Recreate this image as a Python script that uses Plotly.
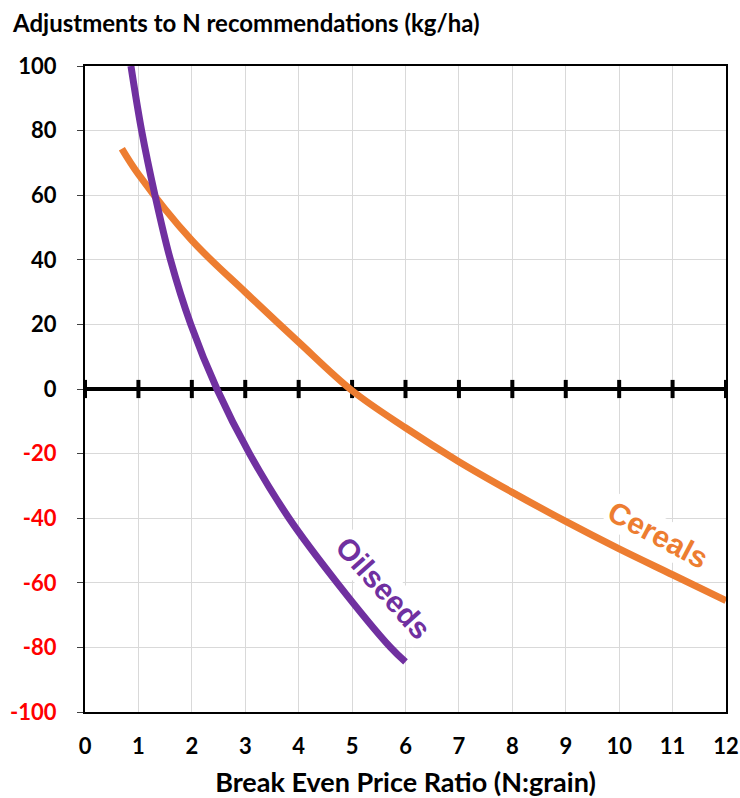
import plotly.graph_objects as go

# Data
cereals_x = [0.69, 1.0, 2.0, 3.0, 4.0, 5.0, 6.0, 7.0, 8.0, 9.0, 10.0, 11.0, 12.0]
cereals_y = [74.4, 66.5, 46.0, 30.0, 14.5, -0.5, -12.0, -22.5, -32.0, -41.0, -49.5, -57.5, -65.5]

oilseeds_x = [0.86, 1.06, 1.31, 1.60, 1.98, 2.47, 3.08, 3.82, 4.72, 5.72, 6.0]
oilseeds_y = [100.0, 80.0, 60.0, 40.0, 20.0, 0.0, -20.0, -40.0, -60.0, -80.0, -84.5]

x_ticks = list(range(0, 13))
y_ticks = [100, 80, 60, 40, 20, 0, -20, -40, -60, -80, -100]
y_tick_text = [
    (f'<span style="color:#FF0000">{v}</span>' if v < 0 else str(v)) for v in y_ticks
]

title_text = "Adjustments to N recommendations (kg/ha)"
x_title = "Break Even Price Ratio (N:grain)"

ORANGE = "#ED7D31"
PURPLE = "#7030A0"
FONT = "Lato"

fig = go.Figure()

# tick marks on the zero line
fig.add_trace(go.Scatter(
    x=x_ticks, y=[0] * len(x_ticks), mode="markers",
    marker=dict(symbol="line-ns", size=13, line=dict(width=4, color="black")),
    hoverinfo="skip", showlegend=False, cliponaxis=False,
))

fig.add_trace(go.Scatter(
    x=cereals_x, y=cereals_y, mode="lines", name="Cereals",
    line=dict(color=ORANGE, width=7, shape="spline", smoothing=1.0),
    showlegend=False,
))
fig.add_trace(go.Scatter(
    x=oilseeds_x, y=oilseeds_y, mode="lines", name="Oilseeds",
    line=dict(color=PURPLE, width=7, shape="spline", smoothing=1.0),
    showlegend=False,
))

fig.add_annotation(
    x=5.58, y=-61.5, text="<b>Oilseeds</b>", showarrow=False, textangle=48,
    font=dict(family="Liberation Sans", size=30, color=PURPLE),
    bgcolor="white", borderpad=1,
)
fig.add_annotation(
    x=10.72, y=-45.0, text="<b>Cereals</b>", showarrow=False, textangle=28,
    font=dict(family="Liberation Sans", size=30, color=ORANGE),
    bgcolor="white", borderpad=1,
)

fig.add_annotation(
    xref="paper", yref="paper", x=-0.117, y=1.068, xanchor="left", yanchor="middle",
    text=f"<b>{title_text}</b>", showarrow=False,
    font=dict(family=FONT, size=24, color="black"),
)

fig.update_layout(
    width=740, height=798,
    margin=dict(l=85, r=14, t=66, b=86),
    paper_bgcolor="white", plot_bgcolor="white",
    font=dict(family=FONT, size=22, color="black"),
    xaxis=dict(
        range=[0, 12], tickmode="array", tickvals=x_ticks,
        ticktext=[f"<b>{v}</b>" for v in x_ticks],
        showgrid=True, gridcolor="#D9D9D9", gridwidth=1,
        showline=True, linecolor="black", linewidth=2, mirror=True,
        zeroline=False, ticks="", ticklabelstandoff=14, automargin=False,
        title=dict(text=f"<b>{x_title}</b>", standoff=20,
                   font=dict(family=FONT, size=27)),
    ),
    yaxis=dict(
        range=[-100, 100], tickmode="array", tickvals=y_ticks, ticktext=[f"<b>{t}</b>" for t in y_tick_text],
        showgrid=True, gridcolor="#D9D9D9", gridwidth=1,
        showline=True, linecolor="black", linewidth=2, mirror=True,
        zeroline=True, zerolinecolor="black", zerolinewidth=4,
        ticks="outside", ticklen=6, tickcolor="#404040", tickwidth=1,
        ticklabelstandoff=16, automargin=False,
    ),
)

fig.write_html(
    "out.html",
    config={"displayModeBar": False},
    post_script="document.body.style.margin='0';document.body.style.overflow='hidden';",
)
